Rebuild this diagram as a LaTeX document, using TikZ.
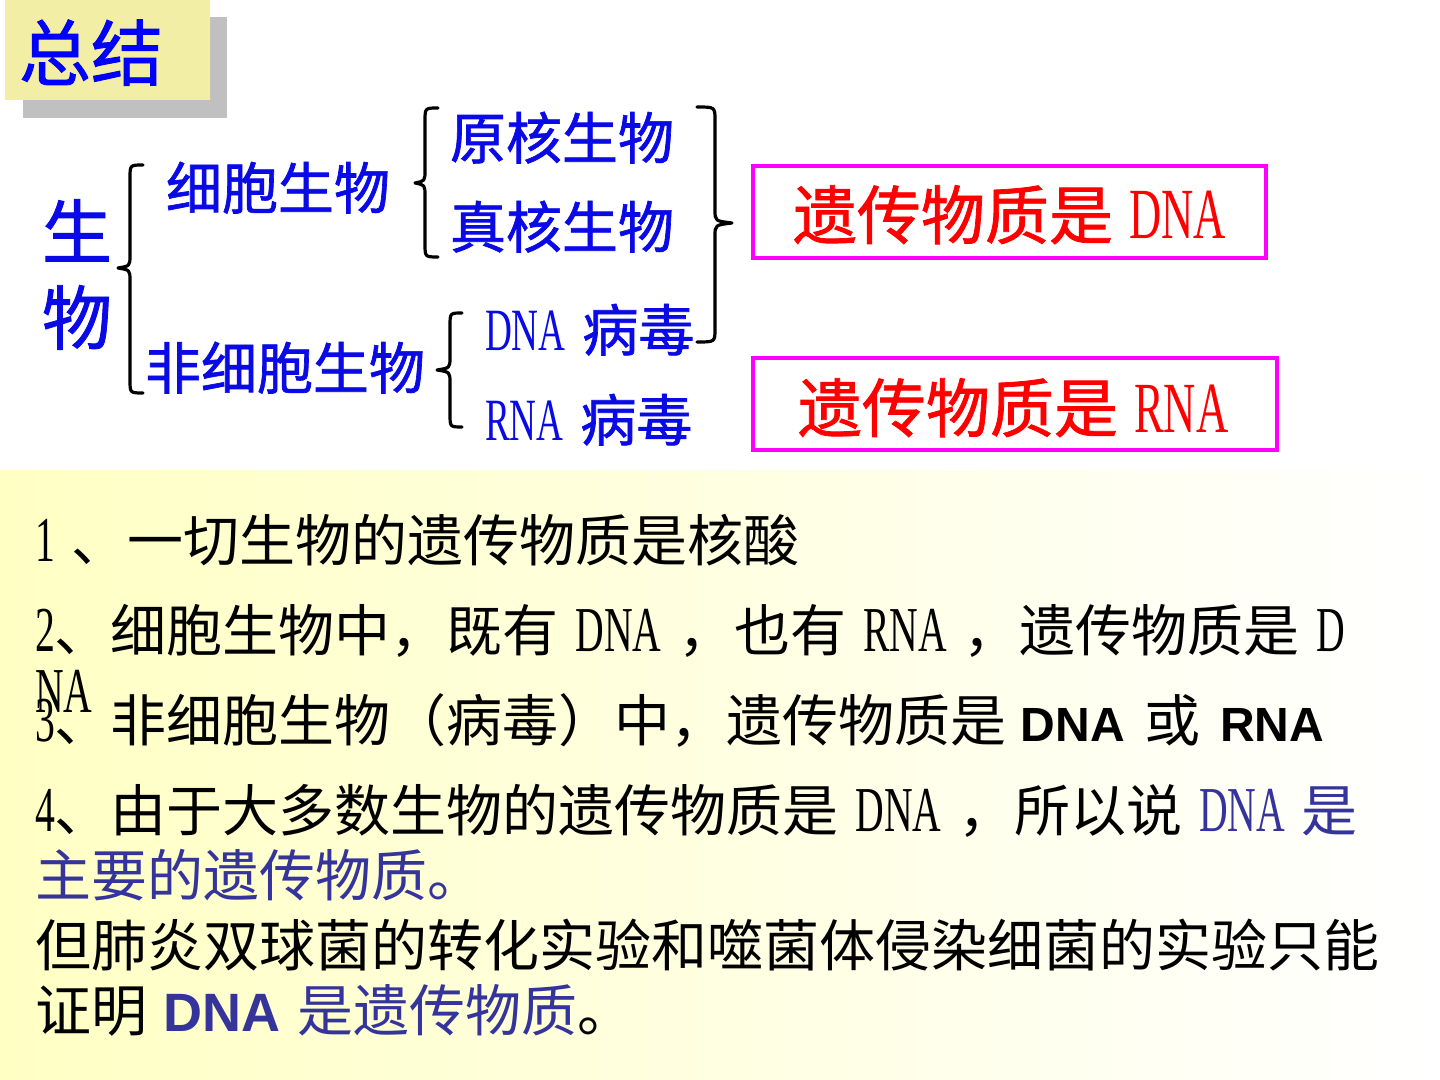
\documentclass[tikz,border=0pt]{standalone}
\usepackage{fontspec}
\setmainfont{Noto Sans CJK SC}
\newfontfamily\cjk{Noto Sans CJK SC}
\newfontfamily\cjkB[FakeBold=1.2]{Noto Sans CJK SC}
\newfontfamily\nar[FakeStretch=0.62]{Liberation Serif}
\newfontfamily\arialb{Liberation Sans Bold}
\newcommand\latn[2]{{\nar\fontsize{#1}{#1}\selectfont #2}}
\newcommand\boldsans[2]{{\arialb\fontsize{#1}{#1}\selectfont #2}}
\definecolor{topblue}{HTML}{0A0AE6}
\definecolor{lowblue}{HTML}{34349C}
\definecolor{magbox}{HTML}{FF00FF}
\definecolor{bgyellow}{HTML}{FFFFC4}
\definecolor{tyel}{HTML}{F2EEA6}
\definecolor{tlight}{HTML}{F8F6DA}
\definecolor{shadowgray}{HTML}{C0C0C0}
\newcommand\bracepath[6]{%
  \draw[bracestyle] (#1,#4) .. controls (#2,#4) .. (#2,#4+13) -- (#2,#5-13)
    .. controls (#2,#5-2) .. (#3,#5) .. controls (#2,#5+2) .. (#2,#5+13)
    -- (#2,#6-13) .. controls (#2,#6) .. (#1,#6);}
\tikzset{
  txt/.style={anchor=base west, inner sep=0pt, outer sep=0pt},
  topt/.style={txt, text=topblue, font=\cjkB\fontsize{28}{30}\selectfont},
  redt/.style={txt, text=red, font=\cjkB\fontsize{32}{34}\selectfont},
  lowt/.style={txt, text=black, font=\cjk\fontsize{28}{30}\selectfont},
  bracestyle/.style={line width=1.6pt, black, line cap=round, line join=round},
  redbox/.style={draw=magbox, line width=2.2pt, fill=white}
}
\begin{document}
\begin{tikzpicture}[x=0.5pt,y=-0.5pt]
\useasboundingbox (0,0) rectangle (1440,1080);
\fill[white] (0,0) rectangle (1440,1080);
% lower yellow panel
\shade[left color=bgyellow, right color=white, middle color=bgyellow!50] (0,470) rectangle (1440,1080);
% title
\fill[shadowgray] (23,17) rectangle (227,118);
\shade[left color=tyel, middle color=tlight, right color=tyel] (5,0) rectangle (210,100);
\node[txt, text=blue, font=\cjkB\fontsize{36}{38}\selectfont] (title) at (19,80) {总结};
% tree
\node[txt, text=topblue, font=\cjkB\fontsize{35}{37}\selectfont] (sheng) at (42,258) {生};
\node[txt, text=topblue, font=\cjkB\fontsize{35}{37}\selectfont] (wu) at (42,344) {物};
\bracepath{143}{130}{118}{165}{268}{393}
\node[topt] (cell) at (166,209) {细胞生物};
\node[topt] (noncell) at (145,389) {非细胞生物};
\bracepath{438}{425}{415}{108}{183}{257}
\node[topt] (pro) at (450,159) {原核生物};
\node[topt] (euk) at (450,248) {真核生物};
\bracepath{462}{450}{437}{313}{370}{427}
\node[topt] (dnav) at (485,351) {\latn{30}{DNA}\hspace{0.3em}病毒};
\node[topt] (rnav) at (485,441) {\latn{30}{RNA}\hspace{0.3em}病毒};
\bracepath{697}{715}{732}{107}{223}{342}
% result boxes
\draw[redbox] (753,166) rectangle (1266,258);
\node[redt] (dnares) at (793,239) {遗传物质是\hspace{0.25em}\latn{36}{DNA}};
\draw[redbox] (753,358) rectangle (1277,450);
\node[redt] (rnares) at (798,432) {遗传物质是\hspace{0.25em}\latn{36}{RNA}};
% lower text
\node[lowt] (l1) at (35,561) {\latn{32}{1}\hspace{0.3em}、一切生物的遗传物质是核酸};
\node[lowt] (l2) at (35,651) {\latn{32}{2}、细胞生物中，既有\hspace{0.3em}\latn{32}{DNA}\hspace{0.3em}，也有\hspace{0.3em}\latn{32}{RNA}\hspace{0.3em}，遗传物质是\hspace{0.3em}\latn{32}{D}};
\node[lowt] (l2b) at (35,712) {\latn{32}{NA}};
\node[lowt] (l3) at (35,741) {\latn{32}{3}、非细胞生物（病毒）中，遗传物质是\hspace{0.25em}\boldsans{24}{DNA}\hspace{0.35em}或\hspace{0.35em}\boldsans{24}{RNA}};
\node[lowt] (l4) at (35,831) {\latn{32}{4}、由于大多数生物的遗传物质是\hspace{0.3em}\latn{32}{DNA}\hspace{0.3em}，所以说\hspace{0.3em}\textcolor{lowblue}{\latn{32}{DNA}\hspace{0.3em}是}};
\node[lowt, text=lowblue] (l5) at (35,896) {主要的遗传物质。};
\node[lowt] (l6) at (35,966) {但肺炎双球菌的转化实验和噬菌体侵染细菌的实验只能};
\node[lowt] (l7) at (35,1031) {证明\hspace{0.3em}\textcolor{lowblue}{\boldsans{27}{DNA}\hspace{0.3em}是遗传物质}。};
\end{tikzpicture}
\end{document}
